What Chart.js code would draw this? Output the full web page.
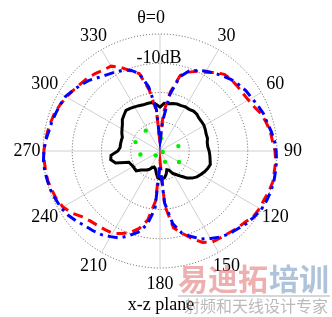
<!DOCTYPE html>
<html>
<head>
<meta charset="utf-8">
<script src="https://cdn.jsdelivr.net/npm/chart.js@4"></script>
<style>
  html, body { margin: 0; padding: 0; background: #fff; }
  #wrap { width: 332px; height: 317px; position: relative; }
</style>
</head>
<body>
<div id="wrap"><canvas id="grafica"></canvas></div>
<script>
// angulos cada 5 grados, 0 arriba, sentido horario
const angulos = [];
for (let a = 0; a < 360; a += 5) angulos.push(a);

const etiquetasTheta = ['θ=0', '30', '60', '90', '120', '150', '180', '210', '240', '270', '300', '330'];

// dB (0 dB = circulo exterior, -40 dB = centro)
const curvaNegra = [
  -25.0, -23.6, -23.6, -23.2, -22.9, -22.9, -22.6, -22.6, -22.2, -22.2, -22.6, -22.6,
  -22.6, -22.9, -23.2, -23.2, -23.6, -23.6, -23.2, -22.9, -22.6, -22.2, -22.6, -23.2,
  -23.9, -24.6, -25.6, -27.0, -28.7, -30.1, -31.1, -32.8, -33.2, -31.8, -30.8, -30.4,
  -30.4, -30.8, -32.5, -33.8, -34.2, -33.8, -32.8, -32.1, -31.5, -30.8, -29.4, -29.4,
  -29.4, -29.1, -28.7, -24.3, -22.9, -23.2, -25.6, -26.3, -26.3, -26.3, -26.3, -25.6,
  -25.0, -24.3, -23.2, -22.6, -21.9, -22.2, -22.6, -22.9, -23.2, -23.2, -23.2, -23.9
];

const curvaRoja = [
  -37.3, -27.0, -19.5, -13.3, -11.3, -9.9, -8.9, -7.2, -5.8, -5.5, -5.5, -5.5,
  -5.1, -4.4, -3.1, -2.4, -1.7, -1.4, -0.7, -0.3, -0.3, 0.0, -0.3, -0.7,
  -0.7, -1.0, -2.1, -2.7, -3.4, -3.8, -4.1, -5.5, -8.2, -10.9, -13.3, -21.2,
  -36.6, -22.9, -16.1, -12.6, -10.3, -8.9, -7.5, -7.2, -6.8, -6.2, -5.1, -3.1,
  -1.7, -1.0, -0.7, -0.3, -0.3, -0.3, -0.3, -0.7, -1.0, -1.4, -1.7, -2.4,
  -3.1, -3.8, -4.4, -4.8, -5.5, -6.2, -6.5, -8.5, -10.9, -12.6, -18.8, -26.3
];

const curvaAzul = [
  -36.6, -29.7, -20.2, -13.7, -10.9, -9.6, -8.5, -7.5, -6.5, -5.5, -4.8, -4.1,
  -3.8, -3.1, -2.4, -2.1, -1.4, -0.7, -0.3, 0.0, 0.1, 0.3, 0.3, 0.2,
  0.0, -0.7, -1.4, -2.4, -3.1, -4.1, -5.5, -6.8, -8.9, -10.9, -14.7, -22.2,
  -35.2, -20.2, -14.4, -11.3, -9.2, -7.2, -6.2, -5.1, -4.4, -3.8, -2.7, -1.7,
  -1.0, -0.7, -0.3, -0.2, 0.0, 0.0, -0.3, -0.7, -1.4, -1.7, -2.1, -2.4,
  -2.7, -3.8, -4.8, -5.8, -7.2, -8.2, -8.9, -9.6, -10.6, -12.6, -17.8, -25.6
];

// puntos verdes sueltos
const verdeAngulos = [5, 75, 110, 120, 155, 225, 260, 290, 325];
const verdeValores = [-35.6, -33.5, -39.0, -32.5, -35.9, -37.9, -33.2, -31.1, -31.5];

const curvaVerde = angulos.map((a) => {
  const i = verdeAngulos.indexOf(a);
  return i >= 0 ? verdeValores[i] : null;
});

const fuente = "'Liberation Serif', 'Times New Roman', serif";

const textosPlugin = {
  id: 'textos',
  afterDraw(chart) {
    const ctx = chart.ctx;
    const r = chart.scales.r;
    ctx.save();
    ctx.fillStyle = '#000';
    ctx.font = '18px ' + fuente;
    ctx.textBaseline = 'middle';
    etiquetasTheta.forEach((txt, k) => {
      const p = r.getPointPosition(k * 6, r.drawingArea + 16);
      if (k === 0) {
        ctx.textAlign = 'right';
        ctx.fillText(txt, p.x + 5, p.y);
      } else {
        ctx.textAlign = 'center';
        ctx.fillText(txt, p.x, p.y);
      }
    });
    const q = r.getPointPosition(0, r.getDistanceFromCenterForValue(-10) + 5);
    ctx.textAlign = 'center';
    ctx.fillText('-10dB', q.x - 1, q.y);
    ctx.fillText('x-z plane', 161, 305);

    // marca de agua
    ctx.font = 'bold 30px "Noto Sans CJK SC"';
    ctx.textAlign = 'left';
    ctx.fillStyle = 'rgba(222, 110, 110, 0.55)';
    ctx.fillText('易迪拓', 178, 279);
    ctx.fillStyle = 'rgba(110, 145, 190, 0.55)';
    ctx.fillText('培训', 269, 279);
    ctx.strokeStyle = 'rgba(150, 150, 150, 0.5)';
    ctx.lineWidth = 1.5;
    ctx.beginPath();
    ctx.moveTo(178, 296);
    ctx.lineTo(330, 296);
    ctx.stroke();
    ctx.font = '16px "Noto Sans CJK SC"';
    ctx.fillStyle = 'rgba(140, 140, 140, 0.6)';
    ctx.fillText('射频和天线设计专家', 184, 306);
    ctx.restore();
  }
};

const ctx = document.getElementById('grafica').getContext('2d');
const chart = new Chart(ctx, {
  type: 'radar',
  data: {
    labels: angulos,
    datasets: [
      {
        label: 'azul',
        data: curvaAzul,
        borderColor: '#0000ff',
        borderWidth: 3,
        borderDash: [10, 5, 3, 5],
        fill: false,
        pointRadius: 0
      },
      {
        label: 'rojo',
        data: curvaRoja,
        borderColor: '#ff0000',
        borderWidth: 3,
        borderDash: [10, 6],
        fill: false,
        pointRadius: 0
      },
      {
        label: 'negro',
        data: curvaNegra,
        borderColor: '#000000',
        borderWidth: 3,
        fill: false,
        pointRadius: 0
      },
      {
        label: 'verde',
        data: curvaVerde,
        showLine: false,
        borderWidth: 0,
        fill: false,
        pointRadius: 2.2,
        pointBorderWidth: 0,
        pointBackgroundColor: '#00ee00'
      }
    ]
  },
  options: {
    responsive: true,
    maintainAspectRatio: false,
    animation: false,
    layout: { padding: { left: 43, right: 54, top: 34, bottom: 49 } },
    plugins: {
      legend: { display: false },
      tooltip: { enabled: false }
    },
    elements: { line: { tension: 0 } },
    scales: {
      r: {
        min: -40,
        max: 0,
        ticks: { display: false, stepSize: 10 },
        pointLabels: { display: false },
        grid: { circular: true, color: '#555', lineWidth: 1 },
        border: { dash: [1, 2] },
        angleLines: {
          color: '#d0d0d0',
          lineWidth: (c) => (c.index % 6 === 0 ? 1 : 0)
        }
      }
    }
  },
  plugins: [textosPlugin]
});
</script>
</body>
</html>
